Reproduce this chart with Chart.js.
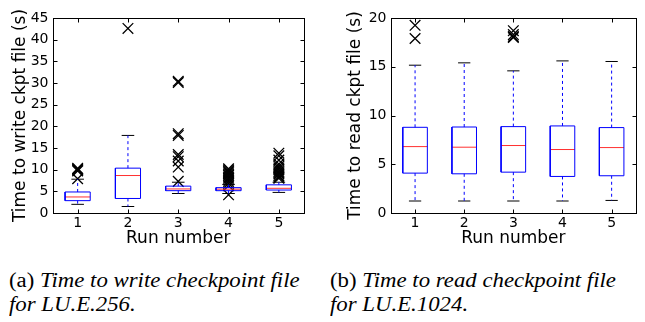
<!DOCTYPE html>
<html>
<head>
<meta charset="utf-8">
<script src="https://cdn.jsdelivr.net/npm/chart.js@4/dist/chart.umd.min.js"></script>
<style>
  body { margin: 0; background: #fff; width: 645px; height: 322px; position: relative; overflow: hidden; }
  canvas { position: absolute; top: 0; }
  #grafEscritura { left: 0; }
  #grafLectura { left: 320px; }
  .pie {
    position: absolute; top: 268px;
    font-family: "Liberation Serif", serif; font-size: 20px; line-height: 24px;
    color: #000; white-space: nowrap; transform: scaleX(1.14); transform-origin: left top;
  }
  .pie i { font-style: italic; }
</style>
</head>
<body>
<canvas id="grafEscritura" width="320" height="250"></canvas>
<canvas id="grafLectura" width="325" height="250"></canvas>
<div class="pie" style="left:9px">(a) <i>Time to write checkpoint file</i><br><i>for LU.E.256.</i></div>
<div class="pie" style="left:330px">(b) <i>Time to read checkpoint file</i><br><i>for LU.E.1024.</i></div>
<script>
const corridas = [1, 2, 3, 4, 5];

// escritura (a)
const escQ1 = [2.85, 3.35, 5.15, 5.15, 5.3];
const escMediana = [3.7, 8.65, 5.55, 5.5, 5.7];
const escQ3 = [4.85, 10.35, 6.2, 5.85, 6.5];
const escMin = [2.0, 1.5, 4.5, 4.5, 4.75];
const escMax = [7.8, 17.9, 7.1, 6.6, 7.1];
const escAtipicos = [
  [7.9, 9.7, 9.9, 10.1, 10.3],
  [42.6],
  [7.3, 10.6, 12.0, 13.0, 13.5, 17.9, 18.3, 30.1, 30.4],
  [4.2, 6.3, 6.8, 7.2, 7.6, 8.0, 8.3, 8.7, 9.0, 9.3, 9.6, 9.9, 10.2],
  [8.0, 8.3, 8.6, 9.0, 9.3, 9.6, 10.0, 10.4, 10.8, 11.3, 12.2, 13.2, 13.8]
];
const escTicksY = [0, 5, 10, 15, 20, 25, 30, 35, 40, 45];

// lectura (b)
const lecQ1 = [4.09, 4.02, 4.19, 3.75, 3.82];
const lecMediana = [6.81, 6.75, 6.92, 6.51, 6.71];
const lecQ3 = [8.79, 8.82, 8.86, 8.93, 8.76];
const lecMin = [1.23, 1.23, 1.23, 1.23, 1.29];
const lecMax = [15.16, 15.4, 14.58, 15.6, 15.54];
const lecAtipicos = [
  [17.9, 19.25],
  [],
  [18.0, 18.1, 18.3, 18.7],
  [],
  []
];
const lecTicksY = [0, 5, 10, 15, 20];

const MEDIO_CAJA = 0.25;
const MEDIO_TAPA = 0.125;
const CORTE = { x: null, y: null };

function linea(data, color, dash) {
  return {
    data, showLine: true, borderColor: color, borderWidth: 1,
    borderDash: dash || [], pointRadius: 0, spanGaps: false
  };
}

function armarDatasets(q1, med, q3, min, max, atipicos) {
  const cajas = [], medianas = [], bigotes = [], tapas = [], puntos = [];
  corridas.forEach((r, i) => {
    const a = r - MEDIO_CAJA, b = r + MEDIO_CAJA;
    cajas.push({ x: a, y: q1[i] }, { x: b, y: q1[i] }, { x: b, y: q3[i] }, { x: a, y: q3[i] }, { x: a, y: q1[i] }, CORTE);
    medianas.push({ x: a, y: med[i] }, { x: b, y: med[i] }, CORTE);
    bigotes.push({ x: r, y: q1[i] }, { x: r, y: min[i] }, CORTE, { x: r, y: q3[i] }, { x: r, y: max[i] }, CORTE);
    tapas.push({ x: r - MEDIO_TAPA, y: min[i] }, { x: r + MEDIO_TAPA, y: min[i] }, CORTE,
               { x: r - MEDIO_TAPA, y: max[i] }, { x: r + MEDIO_TAPA, y: max[i] }, CORTE);
    atipicos[i].forEach(v => puntos.push({ x: r, y: v }));
  });
  return [
    linea(bigotes, '#0000ff', [3, 3]),
    linea(cajas, '#0000ff'),
    linea(tapas, '#000000'),
    linea(medianas, '#ff3030'),
    { data: puntos, pointStyle: 'crossRot', pointRadius: 7.5, borderColor: '#000', borderWidth: 1.3, showLine: false }
  ];
}

// marco y marcas de los ticks hacia adentro
const marcoPlugin = {
  id: 'marco',
  afterDraw(chart) {
    const { ctx, chartArea: ca, scales } = chart;
    ctx.save();
    ctx.strokeStyle = '#000';
    ctx.lineWidth = 1;
    const L = Math.round(ca.left) + 0.5, R = Math.round(ca.right) + 0.5;
    const T = Math.round(ca.top) + 0.5, B = Math.round(ca.bottom) + 0.5;
    ctx.strokeRect(L, T, R - L, B - T);
    ctx.beginPath();
    scales.x.ticks.forEach(t => {
      const px = Math.round(scales.x.getPixelForValue(t.value)) + 0.5;
      ctx.moveTo(px, B); ctx.lineTo(px, B - 4);
      ctx.moveTo(px, T); ctx.lineTo(px, T + 4);
    });
    scales.y.ticks.forEach(t => {
      const py = Math.round(scales.y.getPixelForValue(t.value)) + 0.5;
      ctx.moveTo(L, py); ctx.lineTo(L + 4, py);
      ctx.moveTo(R, py); ctx.lineTo(R - 4, py);
    });
    ctx.stroke();
    ctx.restore();
  }
};

function graficar(id, datasets, ymax, ticksY, tituloY, anchoEjeY, padDerecha, padTitulo) {
  const fuenteTick = { family: 'DejaVu Sans', size: 14 };
  const fuenteTitulo = { family: 'DejaVu Sans', size: 17 };
  return new Chart(document.getElementById(id), {
    type: 'scatter',
    data: { datasets },
    plugins: [marcoPlugin],
    options: {
      responsive: false,
      animation: false,
      devicePixelRatio: 1,
      layout: { padding: { top: 18, right: padDerecha, left: 0, bottom: 0 } },
      plugins: { legend: { display: false }, tooltip: { enabled: false } },
      scales: {
        x: {
          type: 'linear', min: 0.5, max: 5.5,
          grid: { display: false, drawTicks: false },
          border: { display: false },
          afterBuildTicks: s => { s.ticks = corridas.map(v => ({ value: v })); },
          afterFit: s => { s.height = 37; },
          ticks: { font: fuenteTick, color: '#000', padding: 2 },
          title: { display: true, text: 'Run number', font: fuenteTitulo, color: '#000', padding: { top: 0, bottom: 1 } }
        },
        y: {
          type: 'linear', min: 0, max: ymax,
          grid: { display: false, drawTicks: false },
          border: { display: false },
          afterBuildTicks: s => { s.ticks = ticksY.map(v => ({ value: v })); },
          afterFit: s => { s.width = anchoEjeY; },
          ticks: { font: fuenteTick, color: '#000', padding: 4 },
          title: { display: true, text: tituloY, font: fuenteTitulo, color: '#000', padding: { top: padTitulo, bottom: 0 } }
        }
      }
    }
  });
}

graficar('grafEscritura', armarDatasets(escQ1, escMediana, escQ3, escMin, escMax, escAtipicos),
  45, escTicksY, 'Time to write ckpt file (s)', 52.5, 16, 10);
graficar('grafLectura', armarDatasets(lecQ1, lecMediana, lecQ3, lecMin, lecMax, lecAtipicos),
  20, lecTicksY, 'Time to read ckpt file (s)', 70.5, 3.2, 25);
</script>
</body>
</html>
